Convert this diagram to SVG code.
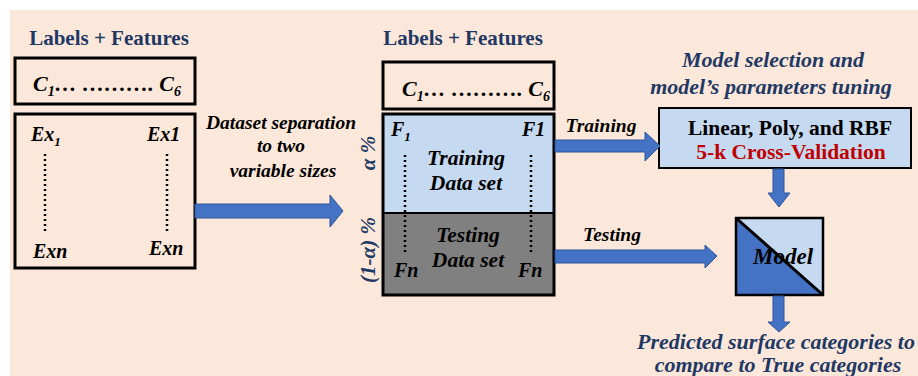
<svg xmlns="http://www.w3.org/2000/svg" width="918" height="376" viewBox="0 0 918 376">
<defs>
<style>
text{font-family:"Liberation Serif","DejaVu Serif","Times New Roman",serif;font-weight:bold;}
.i{font-style:italic;}
.navy{fill:#1f3864;}
.blk{fill:#000;}
.box{fill:none;stroke:#000;stroke-width:3;}
.dot{stroke:#000;stroke-width:2.5;stroke-dasharray:2 3;fill:none;}
.arr{fill:#4472c4;stroke:#2f5597;stroke-width:1;}
</style>
</defs>
<rect x="0" y="0" width="918" height="376" fill="#fff"/>
<rect x="10" y="10" width="908" height="366" fill="#fce8da"/>

<g id="left-title"><text class="navy" x="109" y="45" font-size="21" text-anchor="middle">Labels + Features</text></g>
<g id="left-labels">
<rect class="box" x="15" y="58" width="180" height="46"/>
<text class="i" x="33" y="91" font-size="22">C<tspan font-size="14" dy="5">1</tspan><tspan dy="-5">… ………. C</tspan><tspan font-size="14" dy="5">6</tspan></text>
</g>
<g id="left-examples">
<rect class="box" x="15" y="114" width="180" height="154"/>
<text class="i" x="31" y="141" font-size="20">Ex<tspan font-size="13" dy="5">1</tspan></text>
<text class="i" x="147" y="141" font-size="20">Ex1</text>
<line class="dot" x1="45" y1="154" x2="45" y2="234"/>
<line class="dot" x1="167" y1="154" x2="167" y2="234"/>
<text class="i" x="33" y="258" font-size="20">Exn</text>
<text class="i" x="149" y="255" font-size="20">Exn</text>
</g>

<g id="mid-title"><text class="navy" x="463" y="45" font-size="21" text-anchor="middle">Labels + Features</text></g>
<g id="mid-labels">
<rect class="box" x="383" y="62" width="171" height="47"/>
<text class="i" x="402" y="96" font-size="22">C<tspan font-size="14" dy="5">1</tspan><tspan dy="-5">… ………. C</tspan><tspan font-size="14" dy="5">6</tspan></text>
</g>
<g id="training-set">
<rect x="383" y="114" width="171" height="99" fill="#c5d9f1" stroke="#000" stroke-width="2"/>
<text class="i" x="466" y="165" font-size="21.5" text-anchor="middle">Training</text>
<text class="i" x="466" y="190" font-size="21.5" text-anchor="middle">Data set</text>
</g>
<g id="testing-set">
<rect x="383" y="213" width="171" height="82" fill="#808080" stroke="#000" stroke-width="2"/>
<text class="i" x="468" y="242" font-size="21.5" text-anchor="middle">Testing</text>
<text class="i" x="468" y="267" font-size="21.5" text-anchor="middle">Data set</text>
</g>
<g id="features">
<rect x="383" y="114" width="171" height="181" fill="none" stroke="#000" stroke-width="3"/>
<text class="i" x="391" y="136" font-size="20">F<tspan font-size="13" dy="5">1</tspan></text>
<text class="i" x="522" y="136" font-size="20">F1</text>
<line class="dot" x1="405" y1="155" x2="405" y2="252"/>
<line class="dot" x1="531" y1="155" x2="531" y2="252"/>
<text class="i" x="394" y="277" font-size="20">Fn</text>
<text class="i" x="518" y="277" font-size="20">Fn</text>
<text class="i navy" font-size="21" text-anchor="middle" transform="translate(375,153) rotate(-90)">α %</text>
<text class="i navy" font-size="21" text-anchor="middle" transform="translate(375,250) rotate(-90)">(1-α) %</text>
</g>

<g id="model-selection">
<text class="i navy" x="773" y="67" font-size="22" text-anchor="middle">Model selection and</text>
<text class="i navy" x="771" y="94" font-size="22" text-anchor="middle">model’s parameters tuning</text>
<rect x="659" y="108" width="252" height="60" fill="#c5d9f1" stroke="#000" stroke-width="2"/>
<text class="blk" x="790" y="135" font-size="21.5" text-anchor="middle">Linear, Poly, and RBF</text>
<text x="791" y="159" font-size="21.5" text-anchor="middle" fill="#c00000">5-k Cross-Validation</text>
</g>

<g id="model">
<polygon points="736,218 823,218 823,295" fill="#c5d9f1"/>
<polygon points="736,218 823,295 736,295" fill="#4472c4"/>
<rect x="736" y="218" width="87" height="77" fill="none" stroke="#000" stroke-width="2.5"/>
<line x1="736" y1="218" x2="823" y2="295" stroke="#000" stroke-width="3"/>
<text class="i blk" x="783" y="264" font-size="23" text-anchor="middle">Model</text>
</g>

<g id="output">
<text class="i navy" x="637" y="349" font-size="22">Predicted surface categories to</text>
<text class="i navy" x="778" y="372" font-size="22" text-anchor="middle">compare to True categories</text>
</g>

<g id="connectors">
<polygon class="arr" points="195,204 330,204 330,195 343,211 330,227 330,218 195,218"/>
<text class="i blk" x="281" y="129" font-size="19.5" text-anchor="middle">Dataset separation</text>
<text class="i blk" x="281" y="152" font-size="19.5" text-anchor="middle">to two</text>
<text class="i blk" x="283" y="177" font-size="19.5" text-anchor="middle">variable sizes</text>
<polygon class="arr" points="555,140 645,140 645,132 660,146 645,161 645,152 555,152"/>
<text class="i blk" x="601" y="132" font-size="19.5" text-anchor="middle">Training</text>
<polygon class="arr" points="555,250 705,250 705,245 717,256 705,268 705,263 555,263"/>
<text class="i blk" x="612" y="241" font-size="19.5" text-anchor="middle">Testing</text>
<polygon class="arr" points="773,169 784,169 784,193 790,193 779,207 768,193 773,193"/>
<polygon class="arr" points="773,296 784,296 784,322 790,322 779,332 768,322 773,322"/>
</g>
</svg>
